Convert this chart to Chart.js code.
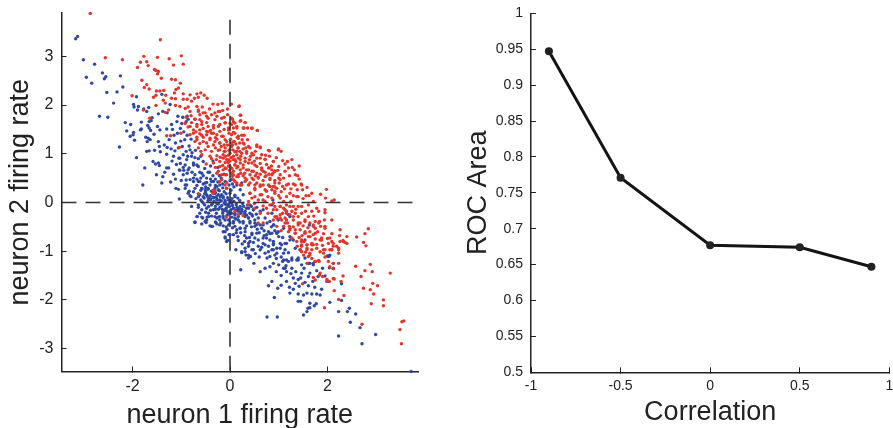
<!DOCTYPE html>
<html>
<head>
<meta charset="utf-8">
<style>
  html, body { margin: 0; padding: 0; background: #fff; }
  #wrap { position: relative; width: 893px; height: 428px; overflow: hidden; }
  canvas { position: absolute; top: 0; }
</style>
<script src="https://cdn.jsdelivr.net/npm/chart.js@4"></script>
</head>
<body>
<div id="wrap">
  <canvas id="scatter" style="left:0"></canvas>
  <canvas id="roc" style="left:450px"></canvas>
</div>
<script>
// [neuron 1, neuron 2] firing rates
const bluePoints = [
  [-3.17,3.36],[-3.13,3.41],[-3.01,2.93],[-2.78,2.84],[-2.95,2.57],[-2.84,2.45],[-2.62,2.66],[-2.55,2.58],[-2.58,2.54],[-2.25,2.60],
  [-2.20,2.37],[-2.53,2.26],[-2.32,2.27],[-2.39,2.04],[-2.68,1.77],[-2.51,1.75],[-2.27,1.14],[-1.92,0.92],[-2.15,1.64],[-2.04,1.60],
  [-2.12,1.47],[-1.98,1.44],[-2.05,1.36],[-1.99,1.39],[-1.96,1.28],[-1.98,2.01],[-1.97,1.96],[-1.88,1.97],[-1.90,1.90],[-1.77,1.92],
  [-1.67,1.95],[-1.71,1.87],[-1.92,2.17],[-1.40,2.22],[-1.23,2.01],[-1.38,1.87],[-1.29,1.84],[-1.47,1.82],[-1.60,1.74],[-1.66,1.66],
  [-1.62,1.68],[-1.82,1.65],[-1.69,1.58],[-1.66,1.53],[-1.49,1.56],[-1.44,1.49],[-1.82,1.51],[-1.84,1.49],[-1.63,1.48],[-1.56,1.40],
  [-1.73,1.34],[-1.68,1.32],[-1.64,1.29],[-1.70,1.25],[-1.47,1.25],[-1.45,1.15],[-1.66,1.06],[-1.71,1.05],[-1.55,1.07],[-1.43,1.04],
  [-1.30,0.99],[-1.35,1.18],[-1.25,1.29],[-1.30,1.51],[-1.20,1.60],[-1.18,1.50],[-1.07,1.77],[-0.97,1.75],[-0.88,1.77],[-0.86,1.71],
  [-1.09,1.66],[-0.99,1.62],[-0.90,1.66],[-1.29,1.13],[-1.21,1.10],[-1.13,1.06],[-1.06,1.12],[-1.01,1.26],[-0.93,1.29],[-0.84,1.16],
  [-0.71,1.07],[-0.82,1.08],[-0.96,0.98],[-0.87,0.95],[-1.16,0.95],[-1.19,0.85],[-1.05,0.91],[-1.58,0.84],[-1.53,0.79],[-1.47,0.81],
  [-1.45,0.76],[-1.75,0.71],[-1.30,0.71],[-1.26,0.71],[-1.34,0.62],[-1.38,0.53],[-1.51,0.57],[-1.40,0.40],[-1.79,0.36],[-1.16,0.58],
  [-1.04,0.67],[-0.95,0.66],[-0.84,0.71],[-0.75,0.81],[-0.68,0.77],[-0.55,0.84],
  [-1.03,0.91],[-0.89,0.88],[-0.79,0.95],[-0.92,0.77],[-1.03,0.66],[-0.86,0.67],[-0.75,0.77],[-0.65,0.74],[-0.96,0.57],[-0.82,0.47],
  [-0.72,0.57],[-0.58,0.60],[-0.48,0.50],[-0.65,0.43],[-0.51,0.40],[-0.38,0.43],[-0.92,0.36],[-1.06,0.27],[-1.11,0.29],[-0.84,0.23],
  [-0.72,0.29],[-0.58,0.29],[-0.45,0.29],[-0.31,0.29],[-0.21,0.36],[-0.10,0.43],[-0.07,0.29],[-0.62,0.16],[-0.48,0.16],[-0.34,0.19],
  [-0.24,0.16],[-0.14,0.12],[0,0.19],[-1.04,0.07],[-0.58,0.02],[-0.45,0.04],[-0.34,0.09],[-0.27,0.07],[-0.21,0.05],[-0.10,0.04],
  [-0.03,0.05],[-0.79,-0.08],[-0.65,-0.10],
  [-0.30,0.35],[-0.25,0.42],[-0.18,0.50],[-0.12,0.58],[-0.35,0.55],[-0.42,0.62],[-0.30,0.20],[-0.22,0.24],[-0.15,0.30],[-0.08,0.18],
  [-0.40,0.08],[-0.33,0.02],[-0.27,-0.02],[-0.18,0.03],[-0.12,-0.01],[-0.05,0.10],[0.04,0.08],[0.08,0.02],[0.13,-0.04],[0.05,-0.06],
  [0.10,0.15],[0.16,0.09],[0.20,0.04],[0.26,-0.02],[0.02,0.25],[0.08,0.32],[-0.02,0.36],[-0.50,0.22],[-0.45,0.10],[-0.55,0.12],
  [-0.60,0.25],[-0.68,0.35],[-0.75,0.22],[-0.80,0.12],[-0.70,0.08],[-0.52,-0.05],[-0.44,-0.08],[-0.36,-0.02],[-0.30,-0.08],[-0.24,-0.14],
  [-0.17,-0.06],[-0.08,-0.12],[-0.02,-0.02],[0.02,-0.15],[0.12,-0.16],[0.18,-0.12],[0.28,-0.08],[0.36,-0.05],[0.44,-0.08],[0.55,-0.10],
  [0.30,-0.22],[0.38,-0.32],[0.46,-0.28],[0.54,-0.24],[-0.28,-0.22],[-0.38,-0.28],[-0.48,-0.36],[-0.58,-0.44],[-0.24,-0.30],[-0.14,-0.28],
  [-0.06,-0.26],[0.04,-0.30],[0.12,-0.34],[0.20,-0.40],[0.34,-0.48],[0.44,-0.50],[0.56,-0.55],[0.68,-0.46],[0.76,-0.42],[0.85,-0.50],
  [0.92,-0.58],[1.00,-0.70],[1.08,-0.72],[0.70,-0.68],[0.60,-0.62],[0.48,-0.82],[0.40,-0.72],[0.30,-0.68],[0.25,-0.85],[0.16,-0.70],
  [-0.02,-0.66],[-0.06,-0.55],[0.05,-0.52],[-0.14,-0.48],[-0.30,-0.40],[-0.60,0.50],[-0.40,0.75],[-0.62,0.62],[-0.25,0.72],[-0.35,0.85],
  [0.00,0.45],[0.05,0.38],
  [0.03,0.47],[0.14,0.36],[0.24,0.40],[0.21,0.26],[0.27,0.16],[0.10,0.12],[0.03,0.02],[0.41,-0.05],[0.48,-0.15],[0.31,-0.25],
  [0.17,-0.15],[0.68,-0.15],[0.86,-0.05],[0.82,-0.39],[0.89,-0.46],[0.96,-0.63],[1.23,-0.70],[1.16,-0.84],[1.30,-0.77],[1.44,-0.97],
  [1.40,-1.18],[1.64,-1.25],[2.02,-1.11],[2.05,-1.08],
  [-0.72,-0.40],[-0.67,-0.29],[-0.56,-0.32],[-0.51,-0.39],[-0.44,-0.29],[-0.41,-0.48],[-0.36,-0.49],[-0.27,-0.44],[-0.19,-0.42],[-0.10,-0.60],
  [-0.10,-0.71],[-0.05,-0.78],[-0.21,-0.29],[-0.10,-0.36],[-0.03,-0.46],[0.07,-0.42],[0.14,-0.56],[0.07,-0.66],[0.17,-0.78],[0.12,-0.97],
  [0.24,-1.03],[0.33,-1.08],[0.38,-1.14],[0.42,-1.11],[0.22,-1.38],[0.49,-1.25],[0.62,-1.42],[0.72,-1.35],[0.82,-1.32],[0.86,-1.62],
  [0.79,-1.71],[0.98,-1.76],[0.91,-1.95],[0.76,-2.35],[0.97,-2.35],[1.16,-1.62],[1.23,-1.86],[1.40,-2.03],[1.45,-2.03],[1.58,-2.24],
  [1.60,-2.17],[1.51,-2.31],[1.64,-2.16],[1.73,-2.12],[1.77,-2.08],[1.64,-2.07],[1.40,-1.88],[1.51,-1.90],[1.58,-1.86],[1.68,-1.88],
  [1.78,-1.88],[1.85,-1.90],[1.88,-1.78],[1.74,-1.74],[1.61,-1.71],[1.54,-1.64],[1.40,-1.58],[1.30,-1.55],[1.34,-1.66],[1.22,-1.74],
  [1.10,-1.35],[1.16,-1.42],[1.27,-1.35],[1.47,-1.45],[1.61,-1.52],[1.64,-1.45],[1.81,-1.52],[1.95,-1.51],[1.99,-1.62],[2.12,-1.35],
  [2.12,-1.25],[2.04,-1.10],[1.61,-1.25],[1.71,-1.28],[1.40,-1.14],[1.27,-1.18],[1.16,-1.18],[1.08,-1.21],[0.89,-1.25],[0.82,-1.11],
  [0.96,-1.04],[1.10,-1.04],[1.20,-1.03],[1.34,-0.94],[1.03,-0.94],[0.89,-0.97],[0.79,-0.90],[0.68,-0.84],[0.58,-0.90],[0.72,-1.04],
  [0.48,-0.97],[0.38,-0.90],[0.31,-1.01],[0.41,-0.80],[0.51,-0.73],[0.58,-0.77],[0.75,-0.73],[0.89,-0.80],[1.03,-0.84],[1.13,-0.84],
  [1.23,-0.77],[0.45,-0.63],[0.31,-0.60],[0.21,-0.53],[0.27,-0.42],[0.41,-0.39],[0.51,-0.42],[0.58,-0.32],[0.72,-0.32],[0.65,-0.53],
  [0.79,-0.60],[0.96,-0.63],[0.31,-0.29],[0.17,-0.29],[0.10,-0.22],[0.24,-0.18],[0.41,-0.22],[0.48,-0.15],[0.62,-0.18],[0.07,-0.12],
  [0.21,-0.08],[0.34,-0.12],[-0.03,-0.08],[0,-0.18],[-0.14,-0.18],[-0.34,-0.15],[-0.48,-0.12],[-0.58,-0.15],[-0.65,-0.05],[-0.55,-0.01],
  [-0.38,-0.05],[-0.24,-0.03],[-0.10,-0.03],[-0.21,-0.10],[-0.44,-0.22],[-0.31,-0.29],[-0.21,-0.36],
  [2.23,-2.24],[2.23,-2.74],[2.41,-2.24],[2.45,-2.17],[2.58,-2.29],[2.47,-2.46],[2.67,-2.57],[2.71,-2.90],[2.99,-2.71],[3.72,-3.47],
  [2.29,-2.01],[2.05,-2.05],[2.29,-1.67],
  [-0.62,0.43],[-0.55,0.38],[-0.48,0.41],[-0.41,0.36],[-0.34,0.43],[-0.27,0.33],[-0.58,0.29],[-0.51,0.26],[-0.45,0.27],[-0.38,0.23],
  [-0.31,0.19],[-0.24,0.26],[-0.17,0.16],[-0.14,0.09],[-0.65,0.12],[-0.60,0.05],[-0.53,0.09],[-0.47,0.14],[-0.40,0.05],[-0.34,0.11],
  [-0.27,0.05],[-0.21,0.04],[-0.10,0],[-0.07,-0.05],[-0.01,-0.08],[0.03,-0.01],[0.07,-0.12],[-0.10,-0.15],[-0.15,-0.22],[-0.03,-0.22],
  [0.03,-0.22],[0.10,-0.25],[0.17,-0.18],[0.24,-0.14],[0.31,-0.18],[0.38,-0.12],[-0.14,-0.32],[-0.03,-0.36],[0.07,-0.39],[0.17,-0.36],
  [0.27,-0.39],[0.38,-0.32],[0.45,-0.25],[0.51,-0.36],[0.10,-0.49],[0.21,-0.53],[0.31,-0.53],[0.41,-0.42],[0.51,-0.49],[0.62,-0.46],
  [-0.14,-0.60],[0,-0.66],[-0.10,-0.73],[-0.07,-0.80],[0.34,-0.73],[0.45,-0.66],[0.55,-0.63],[0.68,-0.73],[0.75,-0.66],[0.82,-0.77],
  [0.38,-0.84],[0.31,-0.94],[0.45,-0.97],[0.38,-1.08],[0.24,-1.01],[0.62,-0.97],[0.72,-0.87],[0.79,-1.01],[0.89,-0.87],[-0.68,-0.29],
  [-0.58,-0.30],[-0.47,-0.30],[-0.38,-0.49],[-0.49,-0.41],[-0.72,-0.41],[-0.27,-0.32],[-0.29,-0.41],[-0.21,-0.46],[-0.86,0.19],[-0.82,0.14],
  [-0.89,0.36],[-0.75,0.43],[-0.92,0.29],
  [0.89,-0.84],[0.96,-0.94],[0.86,-0.97],[1.06,-0.87],[1.13,-0.97],[0.92,-1.08],[1.10,-1.18],[1.20,-1.21],[1.27,-1.14],[1.37,-1.18],
  [1.54,-1.14],[1.00,-1.28],[1.13,-1.35],[1.54,-0.77],[1.63,-0.46],[1.20,-0.25],[1.23,-0.29],[0.99,-0.36],[0.86,-0.22],[0.88,0.05],
  [0.90,-0.46],[0.86,-0.63],[0.99,-0.60],[1.10,-0.53],[2.00,-1.10],[2.04,-1.34],[1.71,-1.25],[1.47,-1.28],
  [-1.15,1.38],[-1.08,1.42],[-1.02,1.52],[-0.95,1.45],[-0.88,1.38],[-0.80,1.30],[-1.12,1.22],[-0.98,1.15],[-0.90,1.05],[-0.78,1.02],
  [-0.72,0.92],[-0.65,0.90],[-0.60,0.95],[-0.52,0.70],[-0.45,0.62],[-1.10,0.78],[-1.02,0.80],[-0.96,0.72],[-0.88,0.60],[-0.78,0.62],
  [-0.75,0.50],[-0.68,0.48],[-0.90,0.46],[-1.00,0.45],[-1.22,0.42],[-1.12,0.48],[-0.55,0.55],[-0.30,0.48],[-0.22,0.55],[-0.50,0.32],
  [-0.40,0.48],[-0.15,0.38],[-0.28,0.12],[-0.20,0.12],[-0.12,0.22],[-0.40,0.14],[-0.52,0.18],[-0.30,-0.14],[-0.16,-0.14],[-0.40,-0.16],
  [-0.50,-0.20],[-0.62,-0.22],[-0.06,-0.18],[0.14,-0.10],[0.22,-0.22],[0.34,-0.26],[0.10,-0.32],[0.00,-0.42],[-0.08,-0.50],[0.22,-0.62],
  [0.13,-0.62],[0.30,-0.80],[0.55,-0.45],[0.70,-0.58],[0.82,-0.64],[0.65,-0.92],[0.52,-1.05],[0.60,-1.12],[0.76,-1.14],[0.95,-1.15],
  [1.05,-1.12],[1.15,-1.30],[1.25,-1.46],[1.35,-1.42],[1.45,-1.55],[1.52,-1.35],[1.42,-1.72],[1.70,-1.62],[1.30,-1.78],[1.05,-1.50],
  [0.95,-1.42],[1.05,-1.70],[1.78,-1.40],[1.90,-1.35]
];
const redPoints = [
  [-2.87,3.88],[-1.43,3.34],[-2.56,2.97],[-2.21,2.93],[-1.77,3.00],[-1.84,2.88],[-1.71,2.89],[-1.68,2.81],[-1.90,2.77],[-1.49,2.98],
  [-1.25,2.95],[-1.00,3.01],[-0.96,2.84],[-1.16,2.82],[-1.55,2.73],[-1.52,2.71],[-1.47,2.69],[-1.49,2.64],[-1.41,2.55],[-1.20,2.53],
  [-1.12,2.52],[-1.02,2.45],[-1.81,2.51],[-1.71,2.42],[-1.76,2.36],[-1.66,2.33],[-2.01,2.19],[-1.51,2.29],[-1.44,2.29],[-1.36,2.30],
  [-1.06,2.35],[-1.11,2.32],[-1.14,2.25],[-1.52,2.20],[-1.57,2.16],[-1.32,2.20],[-1.20,2.14],[-1.12,2.13],[-1.37,2.10],[-1.33,2.04],
  [-0.96,2.23],[-0.82,2.21],[-0.68,2.23],[-0.60,2.25],[-0.53,2.20],[-0.65,2.16],[-0.96,2.12],[-0.88,2.12],[-0.79,2.08],[-0.47,2.14],
  [-0.73,2.14],[-1.12,1.99],[-1.03,1.97],[-1.52,1.99],[-1.78,1.90],[-1.65,1.73],[-1.26,1.90],[-1.33,1.85],[-0.86,1.96],[-0.92,1.93],
  [-0.68,1.97],[-0.65,1.90],[-0.57,1.96],[-0.55,1.84],[-0.62,1.80],[-0.72,1.71],[-0.79,1.64],[-0.48,1.77],[-0.38,1.80],[-0.27,1.77],
  [-0.25,2.01],[-0.16,2.03],[-0.05,1.92],[-0.24,1.87],[-0.15,1.89],[0.18,1.97],[0.03,1.73],[-0.10,1.64],[-0.21,1.60],[-0.34,1.58],
  [-0.48,1.64],[-0.58,1.66],[-0.68,1.60],[-0.86,1.55],[-0.75,1.49],[-0.62,1.49],[-0.48,1.46],[-0.34,1.42],[-0.21,1.46],[-0.03,1.53],
  [0.07,1.66],[0.14,1.53],[-1.01,1.42],[-0.82,1.39],[-0.68,1.34],[-0.55,1.34],[-0.41,1.32],[-0.27,1.30],[-0.14,1.36],[0.03,1.39],
  [0.17,1.36],[-1.30,1.37],[-1.22,1.37],[-1.04,1.13],[-0.72,1.25],[-0.62,1.21],[-0.48,1.22],[-0.34,1.18],[-0.21,1.22],[-0.07,1.25],
  [0.07,1.25],[-0.65,1.12],[-0.51,1.08],[-0.38,1.05],[-0.24,1.07],[-0.10,1.12],[0.03,1.15],[0.17,1.12],[-0.41,0.95],[-0.27,0.96],
  [-0.14,0.98],[0,1.01],[0.14,0.98],[-0.58,0.98],[-0.07,0.88],[0.07,0.88],[-0.21,0.84],[-0.34,0.81],[-0.49,0.79],[-0.14,0.67],
  [-0.03,0.75],[0.10,0.77],[-0.24,0.64],[-0.10,0.57],[0.03,0.60],[0.17,0.57],[-0.17,0.47],[-0.07,0.41],[0.07,0.47],[-0.07,0.29],[-0.31,0.23],
  [-0.04,0.82],[0.02,0.92],[-0.02,1.07],[-0.09,0.95],[0.04,0.70],[-0.01,0.66],[0.10,1.04],[-0.05,1.18],[0.01,1.30],[-0.12,1.05],
  [0.06,1.08],[-0.03,0.97],[0.00,0.85],[0.12,0.84],[-0.15,0.76],[-0.08,0.70],[0.16,0.74],[0.22,0.95],[0.05,0.54],[-0.02,1.42],
  [0.03,2.02],[0.19,1.98],[0.22,1.79],[0.05,1.71],[0.21,1.67],[0.31,1.64],[0.10,1.63],[0.03,1.60],[0.29,1.53],[0.36,1.53],
  [0.45,1.52],[0.56,1.48],[0.07,1.53],[0.07,1.44],[0.24,1.38],[0.29,1.38],[0.15,1.34],[0.25,1.29],[0.36,1.29],[0.09,1.25],
  [0.05,1.18],[0.29,1.20],[0.16,1.12],[0.27,1.10],[0.41,1.12],[0.55,1.15],[0.62,1.14],[0.81,1.06],[0.99,1.08],[1.05,1.05],
  [0.34,1.01],[0.48,0.98],[0.65,0.98],[0.73,0.97],[0.81,0.95],[0.07,0.95],[0.17,0.91],[0.31,0.91],[0.55,0.91],[0.72,0.89],
  [0.89,0.84],[1.08,0.86],[1.18,0.84],[1.27,0.88],[1.00,0.74],[1.13,0.79],[1.20,0.71],[1.42,0.75],[0.10,0.77],[0.27,0.77],
  [0.38,0.81],[0.51,0.77],[0.65,0.71],[0.81,0.71],[0.86,0.67],[0.88,0.60],[0.92,0.64],[1.03,0.57],[1.13,0.64],[1.32,0.67],
  [1.34,0.57],[1.39,0.55],[1.42,0.48],[0.07,0.64],[0.21,0.67],[0.34,0.67],[0.45,0.64],[0.55,0.60],[0.68,0.64],[0.74,0.55],
  [0.14,0.53],[0.27,0.55],[0.41,0.57],[0.58,0.52],[0.48,0.47],[0.34,0.47],[0.82,0.50],[0.92,0.45],[1.01,0.40],[1.08,0.33],
  [1.20,0.38],[1.30,0.38],[1.46,0.38],[1.49,0.26],[1.58,0.31],[1.68,0.19],[1.86,0.17],[1.98,0.27],[1.96,0.09],[2.14,0.05],
  [2.09,0.03],[1.56,0.14],[1.40,0.12],[1.30,0.14],[1.16,0.12],[1.03,0.09],[0.86,0.09],[0.79,0.36],[0.89,0.33],[0.62,0.33],
  [0.51,0.26],[0.65,0.16],[0.75,0.23],[0.41,0.19],[0.45,0.09],[0.38,0.02],[0.68,0.05],[0.92,0.19],[0.86,0.26],[0.96,0.29],
  [0.55,0.40],[0.68,0.45],[0.21,0.81],
  [0.96,-0.29],[1.06,-0.36],[1.13,-0.32],[1.23,-0.25],[1.16,-0.18],[1.03,-0.08],[1.30,-0.08],[1.47,-0.08],[1.61,-0.05],[1.71,0.02],
  [1.34,-0.22],[1.40,-0.29],[1.54,-0.39],[1.64,-0.42],[1.44,-0.42],[1.75,-0.39],[1.84,-0.39],[1.95,-0.21],[1.94,-0.36],[2.09,-0.36],
  [1.82,-0.18],[1.68,-0.18],[1.22,-0.49],[1.34,-0.56],[1.20,-0.60],[1.54,-0.63],[1.64,-0.60],[1.75,-0.53],[1.95,-0.49],[1.86,-0.49],
  [2.26,-0.56],[2.84,-0.54],[2.77,-0.64],[2.60,-0.71],[2.40,-0.70],[2.25,-0.68],[2.09,-0.64],[2.05,-0.73],[2.32,-0.78],[2.36,-0.82],
  [2.40,-0.84],[2.74,-0.82],[2.79,-0.89],[2.12,-0.90],[2.19,-0.90],[2.02,-0.84],[1.85,-0.77],[1.47,-0.77],[1.58,-0.87],[1.68,-0.87],
  [1.78,-0.94],[1.95,-0.97],[2.09,-0.97],[2.23,-1.04],[1.58,-0.97],[1.64,-1.08],[1.47,-0.90],[1.37,-0.80],[1.75,-1.21],[1.83,-1.21],
  [2.02,-1.21],[2.12,-1.25],[2.23,-1.25],[2.12,-1.36],[2.05,-1.32],[2.58,-1.31],[2.88,-1.27],[2.77,-1.40],[2.92,-1.42],[3.29,-1.45],
  [2.69,-1.52],[2.32,-1.51],[2.28,-1.62],[2.12,-1.56],[1.85,-1.45],[1.90,-1.52],[1.71,-1.54],[2.02,-1.62],[2.93,-1.66],[3.03,-1.71],
  [2.74,-1.76],[2.88,-1.79],[1.94,-2.16],[2.23,-1.99],[2.34,-1.91],[2.14,-1.81],[3.15,-2.00],[3.15,-2.12],[2.90,-2.08],[2.95,-1.88],
  [2.71,-2.50],[3.53,-2.45],[3.57,-2.43],[3.49,-2.61],[3.52,-2.90],
  [1.75,-1.59],[1.84,-1.49],[1.99,-1.58],[2.04,-1.62],[2.14,-1.57],[1.49,-1.67],[1.75,-1.21],[1.82,-1.19],[1.58,-1.25],[1.51,-1.08],
  [1.64,-1.04],[1.58,-0.94],[1.44,-0.97],[1.47,-0.80],[1.71,-0.87],[1.92,-0.97],[2.05,-0.97],[2.23,-0.94],[2.12,-0.84],[2.33,-0.80],
  [0.96,-0.15],[1.10,-0.12],[1.23,-0.08],[1.03,-0.32],[1.16,-0.36],[1.30,-0.29],[1.10,-0.49],[1.23,-0.53],[1.40,-0.42],[1.34,-0.63],
  [1.27,-0.73],[1.44,-0.56],[1.54,-0.63],[1.64,-0.70],[0.82,-0.05],[0.68,-0.07],[0.89,-0.36],[0.92,-0.29],[1.16,-0.22],[1.54,-0.36],
  [1.71,-0.46],[1.75,-0.63],[1.88,-0.77],
  [-0.82,1.87],[-0.65,1.87],[-0.51,1.84],[-0.31,1.84],[-0.21,1.87],[-0.17,1.73],[-0.31,1.70],[-0.45,1.73],[-0.62,1.70],[-0.72,1.71],
  [-0.82,1.56],[-0.68,1.56],[-0.58,1.60],[-0.45,1.56],[-0.34,1.53],[-0.24,1.56],[-0.10,1.63],[-0.03,1.49],[0.21,1.79],[0.22,1.68],
  [0.31,1.64],[0.27,1.53],[0.45,1.53],[0.56,1.48],[0.14,1.56],[0.10,1.42],[0.17,1.32],[-0.75,1.42],[-0.62,1.41],[-0.48,1.39],
  [-0.38,1.42],[-0.27,1.39],[-0.17,1.36],[-0.68,1.29],[-0.55,1.25],[-0.41,1.29],[-0.31,1.25],[-0.21,1.22],[-0.10,1.29],[0.03,1.22],
  [0.27,1.22],[0.38,1.15],[0.55,1.18],[0.62,1.12],[0.79,1.07],[1.00,1.10],[-0.21,1.08],[-0.10,1.05],[0,1.08],[0.14,1.05],
  [0.24,1.01],[0.34,1.05],[0.45,1.01],[0.62,0.91],[0.72,0.88],[0.89,0.84],[-0.14,0.91],[-0.03,0.88],[0.10,0.88],[0.21,0.88],
  [0.31,0.84],[0.45,0.81],[0.55,0.74],[-0.21,0.74],[-0.10,0.71],[0,0.74],[0.14,0.71],[0.27,0.71],[0.38,0.67],[0.48,0.64],
  [0.65,0.67],[0.79,0.71],[0.92,0.64],[-0.27,0.60],[-0.17,0.57],[-0.07,0.57],[0.07,0.57],[0.17,0.53],[0.31,0.50],[0.45,0.50],
  [0.58,0.50],[0.72,0.53],[0.82,0.47],[1.00,0.50],[-0.21,0.43],[-0.10,0.36],[0.14,0.40],[0.24,0.36],[0.38,0.36],[0.51,0.36],
  [0.68,0.36],[0.82,0.33],[0.92,0.32],
  [0.86,0.57],[0.92,0.40],[1.03,0.47],[1.16,0.36],[1.34,0.36],[1.47,0.36],[1.23,0.19],[1.37,0.12],[1.03,-0.08],[1.16,-0.05],
  [1.40,-0.08],[1.27,-0.18],[1.47,-0.22],[1.61,-0.29],[1.78,-0.12],[1.95,-0.15],[1.03,-0.25],[1.13,-0.42],[1.30,-0.36],[1.40,-0.46],
  [1.23,-0.56],[1.34,-0.63],[1.54,-0.60],[1.71,-0.49],[1.82,-0.42],[1.95,-0.53],[1.61,-0.70],[1.71,-0.66],[1.47,-0.87],[1.58,-0.87],
  [1.68,-0.84],[1.88,-0.73],[2.09,-0.80],[2.26,-0.80],[1.47,-1.01],[1.68,-0.97],[1.85,-1.01],[2.23,-0.97],[2.09,-0.97],[1.61,-1.11],
  [1.75,-1.21],[1.92,-1.04],[0.92,-0.08],[1.13,-0.15],[0.89,-0.01],
  [0.41,0.40],[0.51,0.29],[0.62,0.36],[0.72,0.26],[0.82,0.33],[0.92,0.23],[0.41,0.19],[0.51,0.12],[0.62,0.16],[0.31,0.43],
  [0.21,0.36],[0.10,0.43],[-0.65,0.18],[-0.34,0.19],[-0.34,0.25],[-0.07,-0.30],[0.10,-0.18],[0.17,-0.25],[0.27,-0.27],[0.58,-0.42],
  [0.68,-0.42],[0.62,-0.22],[0.89,-0.15],[0.96,-0.32],[0.96,-0.49],[0.38,-0.05],[0.51,-0.12],
  [-0.90,1.75],[-0.80,1.78],[-0.42,1.92],[-0.35,2.02],[-0.12,1.75],[-0.05,1.80],[-0.55,1.52],[-0.40,1.48],[-0.12,1.50],[0.00,1.62],
  [-0.92,1.62],[-0.70,1.45],[-0.58,1.38],[-0.45,1.45],[-0.30,1.33],[-0.12,1.18],[-0.60,1.05],[-0.45,1.15],[-0.30,1.12],[-0.18,1.15],
  [-0.28,0.88],[-0.38,0.90],[-0.20,0.93],[-0.10,0.82],[-0.30,0.72],[0.20,1.22],[0.12,1.20],[0.20,1.05],[0.32,1.12],[0.42,0.95],
  [0.52,1.05],[0.40,0.88],[0.50,0.85],[0.62,0.80],[0.75,0.78],[0.85,0.75],[0.95,0.92],[0.72,0.62],[0.80,0.58],[0.62,0.58],
  [0.52,0.55],[0.30,0.60],[0.22,0.60],[0.98,0.66],[1.10,0.50],[1.22,0.55],[1.28,0.72],[1.12,0.28],[1.25,0.28],[1.38,0.26],
  [1.05,0.22],[1.00,0.14],[0.78,0.12],[0.72,0.02],[0.58,0.05],[0.50,-0.02],[1.10,0.02],[1.25,0.02],[1.35,-0.14],[1.08,-0.22],
  [0.78,-0.22],[0.75,-0.12],[1.18,-0.42],[1.05,-0.58],[1.30,-0.50],[1.50,-0.48],[1.60,-0.52],[1.48,-0.68],[1.42,-0.72],[1.38,-0.90],
  [1.52,-0.80],[1.75,-0.75],[1.80,-0.60],[1.92,-0.64],[1.78,-0.86],[1.90,-0.88],[2.00,-0.74],[1.68,-1.15],[1.55,-1.02],[1.95,-1.12],
  [1.50,0.08],[1.62,0.14],[1.55,-0.18],[1.72,-0.28]
];
const rocCorrelation = [-0.9, -0.5, 0, 0.5, 0.9];
const rocArea = [0.947, 0.771, 0.677, 0.674, 0.647];
const scatterXTicks = [-2, 0, 2];
const scatterYTicks = [-3, -2, -1, 0, 1, 2, 3];
const rocXTicks = [-1, -0.5, 0, 0.5, 1];
const rocYTicks = [0.5, 0.55, 0.6, 0.65, 0.7, 0.75, 0.8, 0.85, 0.9, 0.95, 1];

const HEIGHT = 428;
const ink = '#222';
const fontFamily = '"Liberation Sans", Arial, sans-serif';

function setupCanvas(id, width) {
    const c = document.getElementById(id);
    c.width = width;
    c.height = HEIGHT;
    c.style.width = width + 'px';
    c.style.height = HEIGHT + 'px';
    return c;
}

// axis with ticks pointing inward and a fixed plot box
function axis(opts) {
    return {
        type: 'linear',
        min: opts.min,
        max: opts.max,
        afterBuildTicks: s => { s.ticks = opts.tickValues.map(v => ({ value: v })); },
        afterFit: s => {
            if (opts.isX) s.height = opts.fitSize; else s.width = opts.fitSize;
            // label overhang must not push the plot box around
            s.paddingTop = s.paddingBottom = s.paddingLeft = s.paddingRight = 0;
        },
        border: { display: true, color: ink, width: 1.5 },
        grid: { drawOnChartArea: false, drawTicks: true, tickLength: -5, color: ink, lineWidth: 1 },
        ticks: {
            color: ink,
            font: { family: fontFamily, size: opts.tickSize },
            padding: opts.labelPad,
            maxRotation: 0,
            autoSkip: false,
            callback: v => String(v)
        },
        title: {
            display: true,
            text: opts.title,
            color: ink,
            font: { family: fontFamily, size: 27 },
            padding: opts.titlePad
        }
    };
}

new Chart(setupCanvas('scatter', 450), {
    type: 'scatter',
    data: {
        datasets: [
            {
                data: [{ x: -3.46, y: 0 }, { x: 3.8, y: 0 }],
                showLine: true, borderColor: '#333', borderWidth: 1.6, borderDash: [15, 9], pointRadius: 0
            },
            {
                data: [{ x: 0, y: 3.75 }, { x: 0, y: -3.47 }],
                showLine: true, borderColor: '#333', borderWidth: 1.6, borderDash: [15, 9], pointRadius: 0
            },
            {
                data: redPoints.map(p => ({ x: p[0], y: p[1] })),
                backgroundColor: '#e2352b', borderWidth: 0, pointRadius: 1.7, clip: false
            },
            {
                data: bluePoints.map(p => ({ x: p[0], y: p[1] })),
                backgroundColor: '#2f48a2', borderWidth: 0, pointRadius: 1.7, clip: false
            }
        ]
    },
    options: {
        responsive: false,
        animation: false,
        events: [],
        layout: { padding: { top: 13, right: 450 - 418, left: 0, bottom: 0 } },
        plugins: { legend: { display: false }, tooltip: { enabled: false } },
        scales: {
            x: axis({ min: -3.46, max: 3.86, tickValues: scatterXTicks, title: 'neuron 1 firing rate', fitSize: 428 - 371.5, titlePad: { top: 6, bottom: -4 }, isX: true, labelPad: 10, tickSize: 16 }),
            y: axis({ min: -3.47, max: 3.89, tickValues: scatterYTicks, title: 'neuron 2 firing rate', fitSize: 61.5, titlePad: { top: 4, bottom: 0 }, isX: false, labelPad: 13, tickSize: 16 })
        }
    }
});

new Chart(setupCanvas('roc', 460), {
    type: 'line',
    data: {
        datasets: [{
            data: rocCorrelation.map((c, i) => ({ x: c, y: rocArea[i] })),
            borderColor: '#141414',
            borderWidth: 3,
            pointRadius: 4,
            pointBackgroundColor: '#222',
            pointBorderWidth: 0,
            tension: 0
        }]
    },
    options: {
        responsive: false,
        animation: false,
        events: [],
        layout: { padding: { top: 13.3, right: 20.7, left: 0, bottom: 0 } },
        plugins: { legend: { display: false }, tooltip: { enabled: false } },
        scales: {
            x: axis({ min: -1, max: 1, tickValues: rocXTicks, title: 'Correlation', fitSize: 428 - 372.3, titlePad: { top: 3, bottom: -1 }, isX: true, labelPad: 10, tickSize: 14 }),
            y: axis({ min: 0.5, max: 1, tickValues: rocYTicks, title: 'ROC Area', fitSize: 81, titlePad: { top: 12, bottom: 0 }, isX: false, labelPad: 13, tickSize: 14 })
        }
    }
});
</script>
</body>
</html>
